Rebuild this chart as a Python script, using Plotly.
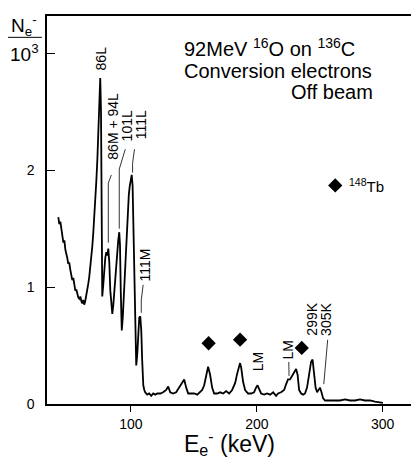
import plotly.graph_objects as go

# Spectrum (electron energy keV, counts / 10^3)
energy = [42.3, 43.1, 43.9, 44.7, 45.5, 46.3, 47.1, 47.9, 48.7, 49.4, 50.2, 51.0, 51.8, 52.6, 53.4,
          54.2, 55.0, 55.8, 56.6, 57.4, 58.2, 59.0, 59.8, 60.6, 61.3, 62.1, 62.9, 63.7, 64.5, 65.3,
          66.1, 66.9, 67.7, 68.5, 69.3, 70.1, 70.9, 71.7, 72.5, 73.3, 74.0, 74.8, 75.6, 76.2, 76.7,
          77.2, 78.0, 78.8, 79.6, 80.4, 81.2, 82.0, 82.8, 83.6, 84.4, 85.2, 86.0, 86.7, 87.5, 88.3,
          89.1, 89.9, 90.7, 91.3, 91.9, 92.7, 93.5, 94.3, 95.1, 95.9, 96.7, 97.5, 98.3, 99.0, 99.8,
          100.6, 101.3, 101.8, 102.6, 103.4, 104.2, 105.0, 105.8, 106.6, 107.4, 108.2, 108.9, 109.8, 110.6, 111.3,
          112.9, 114.5, 116.1, 117.7, 119.3, 120.9, 123.3, 125.6, 128.0, 129.6, 131.2, 133.5, 135.9, 138.3, 140.7,
          142.3, 143.9, 145.5, 147.9, 150.3, 152.7, 155.0, 156.6, 158.2, 159.8, 161.3, 162.9, 164.5, 166.1, 168.5,
          170.9, 173.3, 175.6, 178.0, 180.4, 182.8, 184.4, 186.0, 186.7, 187.6, 189.1, 190.7, 193.1, 195.5, 197.8,
          199.4, 200.6, 201.8, 203.4, 205.8, 208.2, 210.6, 213.0, 215.3, 216.9, 219.3, 221.7, 223.3, 224.8, 226.4,
          228.0, 229.6, 231.2, 232.4, 233.6, 235.2, 236.8, 238.3, 239.9, 241.5, 243.1, 244.3, 245.5, 246.7, 247.9,
          249.0, 250.2, 251.4, 252.6, 254.2, 258.2, 262.1, 266.1, 270.1, 274.0, 278.0, 282.0, 285.9, 289.9, 293.9,
          297.9, 300.2]
counts = [1.60, 1.54, 1.56, 1.47, 1.44, 1.38, 1.40, 1.32, 1.26, 1.25, 1.20, 1.21, 1.15, 1.10, 1.06,
          1.08, 1.02, 0.97, 0.98, 0.94, 0.91, 0.90, 0.92, 0.88, 0.86, 0.89, 0.85, 0.88, 0.92, 0.96,
          1.03, 1.09, 1.16, 1.25, 1.35, 1.47, 1.59, 1.74, 1.91, 2.09, 2.34, 2.60, 2.79, 2.51, 1.32,
          0.92, 1.02, 1.16, 1.25, 1.30, 1.27, 1.33, 1.21, 0.97, 0.84, 0.77, 0.85, 0.96, 1.10, 1.21,
          1.32, 1.40, 1.47, 1.36, 0.97, 0.63, 0.74, 0.93, 1.15, 1.32, 1.49, 1.66, 1.79, 1.86, 1.93,
          1.96, 1.87, 1.62, 1.15, 0.63, 0.33, 0.42, 0.59, 0.74, 0.75, 0.63, 0.38, 0.16, 0.12, 0.10,
          0.08, 0.09, 0.07, 0.09, 0.08, 0.09, 0.09, 0.10, 0.12, 0.15, 0.10, 0.09, 0.10, 0.14, 0.18,
          0.21, 0.14, 0.09, 0.09, 0.09, 0.08, 0.10, 0.12, 0.16, 0.25, 0.32, 0.25, 0.14, 0.09, 0.09,
          0.10, 0.09, 0.11, 0.09, 0.12, 0.18, 0.26, 0.34, 0.35, 0.31, 0.19, 0.12, 0.09, 0.09, 0.10,
          0.14, 0.16, 0.13, 0.09, 0.08, 0.09, 0.08, 0.10, 0.07, 0.09, 0.10, 0.12, 0.17, 0.21, 0.21,
          0.24, 0.27, 0.30, 0.25, 0.12, 0.09, 0.08, 0.09, 0.14, 0.25, 0.36, 0.38, 0.27, 0.14, 0.10,
          0.12, 0.14, 0.10, 0.05, 0.03, 0.03, 0.03, 0.03, 0.04, 0.03, 0.03, 0.04, 0.03, 0.03, 0.02,
          0.01, 0.01]

# 148Tb markers
tb_energy = [161.7, 186.7, 235.7]
tb_counts = [0.52, 0.55, 0.48]
legend_marker = [262.3, 1.87]

# Peak labels: text, x (keV), y, leader line points
peak_labels = ["86L", "86M + 94L", "101L", "111L", "111M", "LM", "LM", "299K", "305K"]
label_x = [76.5, 85.6, 96.5, 107.6, 110.8, 201.2, 225.0, 243.8, 255.0]
label_y = [2.96, 2.38, 2.38, 2.39, 1.19, 0.36, 0.46, 0.73, 0.72]
leader_x = [None, [84.4, 82.0, 82.0], [95.5, 90.7, 90.7], [102.8, 101.3, 101.3], [109.7, 108.2, 108.2],
            None, [225.4, 225.6], None, [256.3, 253.2]]
leader_y = [None, [1.96, 1.89, 1.38], [2.18, 2.01, 1.50], [2.18, 2.06, 1.98], [1.02, 0.89, 0.78],
            None, [0.36, 0.24], None, [0.55, 0.17]]

xticks = [100, 200, 300]
yticks = [0, 1, 2, 3]
yticktext = ["0", "1", "2", ""]

fig = go.Figure()
fig.add_trace(go.Scatter(x=energy, y=counts, mode="lines",
                         line=dict(color="black", width=1.8), showlegend=False))
fig.add_trace(go.Scatter(x=tb_energy, y=tb_counts, mode="markers",
                         marker=dict(symbol="diamond", size=11, color="black"), showlegend=False))
fig.add_trace(go.Scatter(x=[legend_marker[0]], y=[legend_marker[1]], mode="markers",
                         marker=dict(symbol="diamond", size=11, color="black"), showlegend=False))

for lx, ly in zip(leader_x, leader_y):
    if lx is None:
        continue
    fig.add_trace(go.Scatter(x=lx, y=ly, mode="lines", line=dict(color="black", width=0.8),
                             showlegend=False, hoverinfo="skip"))

font_main = "Liberation Sans, Arial, sans-serif"
annotations = []
for t, x, y in zip(peak_labels, label_x, label_y):
    annotations.append(dict(x=x, y=y, xref="x", yref="y", text=t, textangle=-90, showarrow=False,
                            font=dict(size=14, color="black", family=font_main)))

annotations += [
    dict(x=0.371, y=0.918, xref="paper", yref="paper", xanchor="left", yanchor="middle",
         text="92MeV <sup>16</sup>O on <sup>136</sup>C", showarrow=False,
         font=dict(size=20, color="black", family=font_main)),
    dict(x=0.371, y=0.858, xref="paper", yref="paper", xanchor="left", yanchor="middle",
         text="Conversion electrons", showarrow=False,
         font=dict(size=20, color="black", family=font_main)),
    dict(x=0.901, y=0.804, xref="paper", yref="paper", xanchor="right", yanchor="middle",
         text="Off beam", showarrow=False,
         font=dict(size=20, color="black", family=font_main)),
    dict(x=0.824, y=0.564, xref="paper", yref="paper", xanchor="left", yanchor="middle",
         text="<sup>148</sup>Tb", showarrow=False,
         font=dict(size=15, color="black", family=font_main)),
    dict(x=-0.062, y=0.975, xref="paper", yref="paper", xanchor="center", yanchor="middle",
         text="N<sub>e</sub><sup>-</sup>", showarrow=False,
         font=dict(size=19, color="black", family=font_main)),
    dict(x=-0.062, y=0.905, xref="paper", yref="paper", xanchor="center", yanchor="middle",
         text="10<sup>3</sup>", showarrow=False,
         font=dict(size=19, color="black", family=font_main)),
    dict(x=0.5, y=-0.10, xref="paper", yref="paper", xanchor="center", yanchor="middle",
         text="E<sub>e</sub><sup>-</sup> (keV)", showarrow=False,
         font=dict(size=23, color="black", family=font_main)),
]

fig.update_layout(
    width=411, height=468,
    margin=dict(l=47, r=0, t=16, b=64),
    paper_bgcolor="white", plot_bgcolor="white",
    annotations=annotations,
    shapes=[dict(type="line", xref="paper", yref="paper", x0=-0.107, x1=-0.014, y0=0.945, y1=0.945,
                 line=dict(color="black", width=1))],
    xaxis=dict(range=[33.3, 322.5], tickvals=xticks, ticks="outside", ticklen=6, tickwidth=1.2,
               tickcolor="black", showline=True, linecolor="black", linewidth=1.5, mirror=True,
               showgrid=False, zeroline=False, ticklabelstandoff=0,
               tickfont=dict(size=14, color="black", family=font_main)),
    yaxis=dict(range=[0, 3.32], tickvals=yticks, ticktext=yticktext, ticks="inside", ticklen=8,
               tickwidth=1.2, tickcolor="black", showline=True, linecolor="black", linewidth=1.5,
               showgrid=False, zeroline=False, ticklabelstandoff=8,
               tickfont=dict(size=14, color="black", family=font_main)),
)

fig.write_html("out.html")
